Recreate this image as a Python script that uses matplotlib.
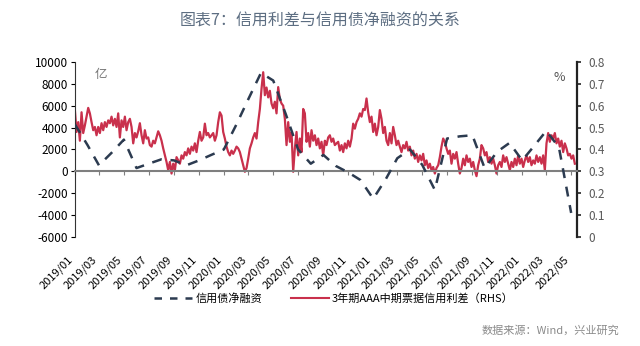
import numpy as np
import pandas as pd
import matplotlib
matplotlib.use('Agg')
import matplotlib.pyplot as plt
from matplotlib.lines import Line2D

plt.rcParams['font.family'] = ['Noto Sans CJK SC', 'DejaVu Sans']
plt.rcParams['axes.unicode_minus'] = False

## Data

# monthly credit bond net financing (亿), left axis
net_months = pd.date_range('2019-01-01', '2022-05-01', freq='MS')
net_fin = [4300, 2400, 550, 1700, 2900, 300, 700, 1100, 1000, 550,
           1000, 1500, 2000, 4300, 6600, 9000, 8300, 5200, 2000, 700,
           1500, 500, -100, -800, -2500, -700, 1200, 2000, 600, -1700,
           3000, 3200, 3300, 300, 1800, 2600, 1000, 2400, 3700, 2200,
           -3800]

# 3Y AAA MTN credit spread (%), right axis
spread = [
    0.58, 0.48, 0.525, 0.44, 0.57, 0.475, 0.51, 0.55, 0.59, 0.565,
    0.525, 0.488, 0.503, 0.465, 0.503, 0.475, 0.52, 0.488, 0.525, 0.503,
    0.533, 0.52, 0.55, 0.51, 0.54, 0.503, 0.565, 0.455, 0.533, 0.503,
    0.55, 0.488, 0.525, 0.54, 0.503, 0.428, 0.475, 0.455, 0.483, 0.52,
    0.465, 0.428, 0.488, 0.45, 0.455, 0.42, 0.413, 0.44, 0.428, 0.455,
    0.483, 0.465, 0.44, 0.405, 0.373, 0.343, 0.305, 0.343, 0.29, 0.335,
    0.305, 0.365, 0.35, 0.335, 0.373, 0.358, 0.388, 0.373, 0.405, 0.38,
    0.413, 0.395, 0.428, 0.388, 0.44, 0.48,
    0.44, 0.455, 0.518, 0.465, 0.475, 0.455, 0.465, 0.475, 0.44, 0.465,
    0.525, 0.57, 0.555, 0.48, 0.45, 0.413, 0.388, 0.373, 0.395, 0.38,
    0.395, 0.413, 0.405, 0.388, 0.358, 0.328, 0.298, 0.315, 0.358, 0.405,
    0.428, 0.455, 0.475, 0.45, 0.525, 0.585, 0.678, 0.753, 0.648, 0.683,
    0.638, 0.668, 0.61, 0.588, 0.618, 0.565, 0.685, 0.63, 0.61, 0.6,
    0.54, 0.42, 0.525, 0.435, 0.48, 0.298, 0.405, 0.48, 0.373, 0.45,
    0.388, 0.585, 0.565, 0.435, 0.475, 0.413, 0.488, 0.44, 0.465, 0.42,
    0.45, 0.405, 0.435, 0.373,
    0.44, 0.42, 0.455, 0.465, 0.435, 0.45, 0.42, 0.428, 0.435, 0.395,
    0.42, 0.388, 0.428, 0.405, 0.44, 0.413, 0.45, 0.518, 0.495, 0.525,
    0.54, 0.565, 0.55, 0.585, 0.58, 0.633, 0.57, 0.525, 0.55, 0.48,
    0.518, 0.465, 0.503, 0.58, 0.54, 0.475, 0.503, 0.44, 0.42, 0.475,
    0.428, 0.503, 0.465, 0.42, 0.44, 0.413, 0.388, 0.42, 0.405, 0.435,
    0.395, 0.413, 0.373, 0.395, 0.358, 0.38, 0.343, 0.373, 0.35, 0.38,
    0.328, 0.35, 0.315, 0.335, 0.305, 0.32, 0.29, 0.315, 0.328, 0.365,
    0.413, 0.45, 0.435, 0.405, 0.38,
    0.395, 0.335, 0.38, 0.358, 0.388, 0.335, 0.29, 0.315, 0.358, 0.328,
    0.373, 0.343, 0.358, 0.32, 0.343, 0.305, 0.278, 0.328, 0.358, 0.42,
    0.405, 0.373, 0.388, 0.343, 0.365, 0.335, 0.358, 0.328, 0.29, 0.328,
    0.343, 0.32, 0.373, 0.343, 0.365, 0.335, 0.305, 0.343, 0.32, 0.358,
    0.328, 0.373, 0.335, 0.358, 0.32, 0.35, 0.373, 0.343, 0.365, 0.328,
    0.35, 0.335, 0.373, 0.343, 0.365, 0.335, 0.373, 0.305, 0.428, 0.475,
    0.435, 0.465, 0.45, 0.475, 0.428, 0.45, 0.413, 0.44, 0.388, 0.428,
    0.405, 0.373, 0.38, 0.358, 0.373, 0.335,
]
spread_dates = pd.date_range('2019-01-01', '2022-05-10', periods=len(spread))

tick_dates = pd.date_range('2019-01-01', '2022-05-01', freq='2MS')
tick_labels = [d.strftime('%Y/%m') for d in tick_dates]

title = '图表7：信用利差与信用债净融资的关系'
net_name = '信用债净融资'
spread_name = '3年期AAA中期票据信用利差（RHS）'
source = '数据来源：Wind，兴业研究'

red = '#c9304c'
navy = '#2c3b50'
gray = '#7f7f7f'

## Plot

fig = plt.figure(figsize=(6.4, 3.46), dpi=100)
ax = fig.add_axes([0.117, 0.315, 0.785, 0.506])
ax2 = ax.twinx()

ax.plot(net_months, net_fin, color=navy, lw=1.8, dashes=(4, 3.5), zorder=3)
ax2.plot(spread_dates, spread, color=red, lw=1.6, zorder=2)

ax.set_zorder(ax2.get_zorder() + 1)
ax.patch.set_visible(False)

ax.set_ylim(-6000, 10000)
ax.set_yticks(np.arange(-6000, 10001, 2000))
ax2.set_ylim(0, 0.8)
ax2.set_yticks(np.arange(0, 0.81, 0.1))
ax2.set_yticklabels(['0'] + ['%.1f' % v for v in np.arange(0.1, 0.81, 0.1)])

ax.set_xlim(pd.Timestamp('2019-01-01'), pd.Timestamp('2022-05-16'))
ax.set_xticks(tick_dates)
ax.set_xticklabels(tick_labels)

ax.spines['top'].set_visible(False)
ax2.spines['top'].set_visible(False)
ax.spines['right'].set_visible(False)
ax2.spines['left'].set_visible(False)
ax2.spines['bottom'].set_visible(False)
ax.spines['bottom'].set_position(('data', 0))
ax.spines['bottom'].set_color(gray)
ax.spines['bottom'].set_linewidth(1.5)
ax.spines['left'].set_color('#333333')
ax2.spines['right'].set_color('#222222')
ax2.spines['right'].set_linewidth(1.6)

ax.tick_params(axis='x', direction='out', length=3, color=gray, pad=57,
               labelrotation=45, labelsize=8)
ax.tick_params(axis='y', direction='out', length=3, labelsize=8.5, pad=2)
ax2.tick_params(axis='y', direction='out', length=3, labelsize=8.5,
                labelcolor='#595959', color='#222222', width=1.2, pad=5)
for lbl in ax.get_xticklabels():
    lbl.set_ha('right')

ax.text(0.04, 0.93, '亿', transform=ax.transAxes, fontsize=9, color='#777777',
        va='center')
ax2.text(0.975, 0.91, '%', transform=ax.transAxes, fontsize=9, color='#555555',
         va='center', ha='right')

fig.text(0.5, 0.94, title, ha='center', va='center', fontsize=11.5,
         color='#5d6e82')

handles = [Line2D([], [], color=navy, lw=1.8, dashes=(3, 3.2)),
           Line2D([], [], color=red, lw=1.5)]
fig.legend(handles, [net_name, spread_name], loc='center',
           bbox_to_anchor=(0.522, 0.138), ncol=2, frameon=False, fontsize=8,
           handlelength=3.4, handletextpad=0.3, columnspacing=2.6)

fig.text(0.968, 0.045, source, ha='right', va='center', fontsize=8,
         color='#8a8a8a')

fig.savefig('out.png', dpi=100)
